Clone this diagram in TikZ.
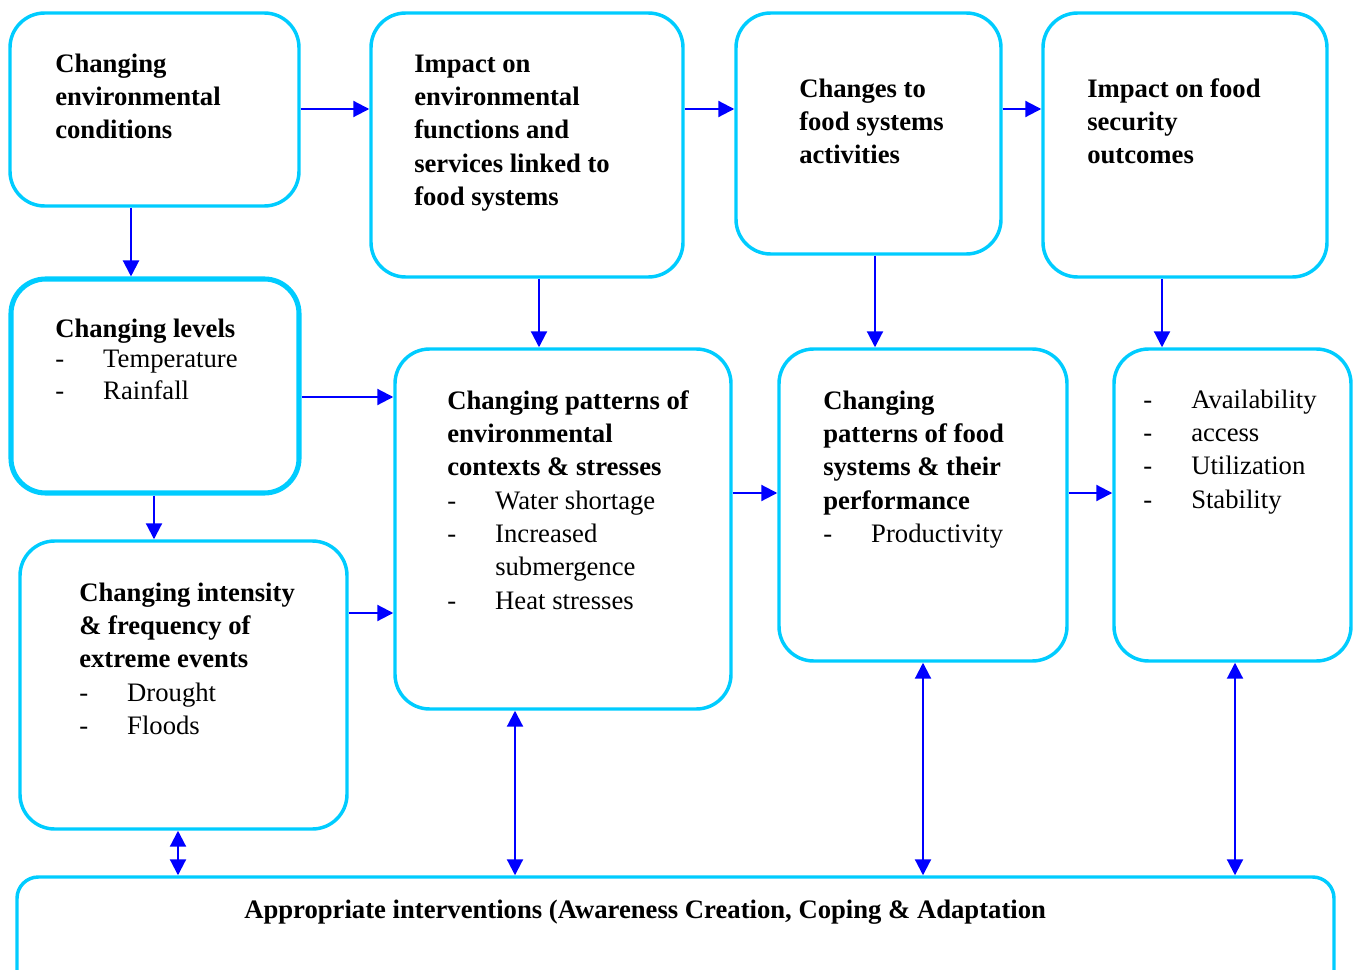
\documentclass[tikz,border=0pt]{standalone}
\usepackage{fontspec}
\setmainfont{Liberation Serif}
\usetikzlibrary{arrows.meta,fit}
\definecolor{boxc}{HTML}{00CCFF}
\definecolor{arrc}{HTML}{0000FF}
\newcommand{\dashitem}[1]{\makebox[36pt][l]{-}#1}
\begin{document}
\begin{tikzpicture}[x=0.75pt,y=-0.75pt,
 box/.style={draw=boxc, line width=2.6pt, rounded corners=26pt, inner sep=0pt},
 thickbox/.style={box, line width=3.8pt},
 txt/.style={anchor=north west, inner sep=0pt, align=left, font=\fontsize{20}{25}\selectfont},
 arr/.style={draw=arrc, line width=1.6pt, -{Triangle[length=12pt,width=12pt]}},
 darr/.style={draw=arrc, line width=1.6pt, {Triangle[length=12pt,width=12pt]}-{Triangle[length=12pt,width=12pt]}}]
\path[use as bounding box] (0,0) rectangle (1360,970);
\clip (0,0) rectangle (1360,970);
% boxes
\node[box, fit={(10,13) (299,206)}] (b1) {};
\node[box, fit={(371,13) (683,277)}] (b2) {};
\node[box, fit={(736,13) (1001,254)}] (b3) {};
\node[box, fit={(1043,13) (1327,277)}] (b4) {};
\node[thickbox, fit={(11,279) (299,493)}] (b5) {};
\node[box, fit={(395,349) (731,709)}] (b6) {};
\node[box, fit={(779,349) (1067,661)}] (b7) {};
\node[box, fit={(1114,349) (1351,661)}] (b8) {};
\node[box, fit={(20,541) (347,829)}] (b9) {};
\node[box, rounded corners=16pt, fit={(17,877) (1334,1010)}] (b10) {};
% texts
\node[txt] (t1) at (55,48.7) {\strut\textbf{Changing}\\\textbf{environmental}\\\textbf{conditions}};
\node[txt] (t2) at (414,48.7) {\strut\textbf{Impact on}\\\textbf{environmental}\\\textbf{functions and}\\\textbf{services linked to}\\\textbf{food systems}};
\node[txt] (t3) at (799,73.7) {\strut\textbf{Changes to}\\\textbf{food systems}\\\textbf{activities}};
\node[txt] (t4) at (1087,73.7) {\strut\textbf{Impact on food}\\\textbf{security}\\\textbf{outcomes}};
\node[txt] (t5) at (55,313.7) {\strut\textbf{Changing levels}\\[-2pt]\dashitem{Temperature}\\[-1pt]\dashitem{Rainfall}};
\node[txt] (t6) at (447,385.7) {\strut\textbf{Changing patterns of}\\\textbf{environmental}\\\textbf{contexts \& stresses}\\\dashitem{Water shortage}\\\dashitem{Increased}\\\hspace*{36pt}submergence\\\dashitem{Heat stresses}};
\node[txt] (t7) at (823,385.7) {\strut\textbf{Changing}\\\textbf{patterns of food}\\\textbf{systems \& their}\\\textbf{performance}\\\dashitem{Productivity}};
\node[txt] (t8) at (1143,384.7) {\strut\dashitem{Availability}\\\dashitem{access}\\\dashitem{Utilization}\\\dashitem{Stability}};
\node[txt] (t9) at (79,577.7) {\strut\textbf{Changing intensity}\\\textbf{\& frequency of}\\\textbf{extreme events}\\\dashitem{Drought}\\\dashitem{Floods}};
\node[txt] (t10) at (244,894.7) {\strut\textbf{Appropriate interventions (Awareness Creation, Coping \& Adaptation}};
% guide coordinates
\coordinate (h1) at (0,109);
\coordinate (h2) at (0,397);
\coordinate (h3) at (0,613);
\coordinate (h4) at (0,493);
\coordinate (v1) at (131,0);
\coordinate (v2) at (539,0);
\coordinate (v3) at (875,0);
\coordinate (v4) at (1162,0);
\coordinate (v5) at (154,0);
\coordinate (v6) at (178,0);
\coordinate (v7) at (515,0);
\coordinate (v8) at (923,0);
\coordinate (v9) at (1235,0);
% connectors
\draw[arr] (b1.east |- h1) -- (b2.west |- h1);
\draw[arr] (b2.east |- h1) -- (b3.west |- h1);
\draw[arr] (b3.east |- h1) -- (b4.west |- h1);
\draw[arr] (b1.south -| v1) -- (b5.north -| v1);
\draw[arr] (b2.south -| v2) -- (b6.north -| v2);
\draw[arr] (b3.south -| v3) -- (b7.north -| v3);
\draw[arr] (b4.south -| v4) -- (b8.north -| v4);
\draw[arr] (b5.east |- h2) -- (b6.west |- h2);
\draw[arr] (b5.south -| v5) -- (b9.north -| v5);
\draw[arr] (b9.east |- h3) -- (b6.west |- h3);
\draw[arr] (b6.east |- h4) -- (b7.west |- h4);
\draw[arr] (b7.east |- h4) -- (b8.west |- h4);
\draw[darr] (b9.south -| v6) -- (b10.north -| v6);
\draw[darr] (b6.south -| v7) -- (b10.north -| v7);
\draw[darr] (b7.south -| v8) -- (b10.north -| v8);
\draw[darr] (b8.south -| v9) -- (b10.north -| v9);
\end{tikzpicture}
\end{document}
